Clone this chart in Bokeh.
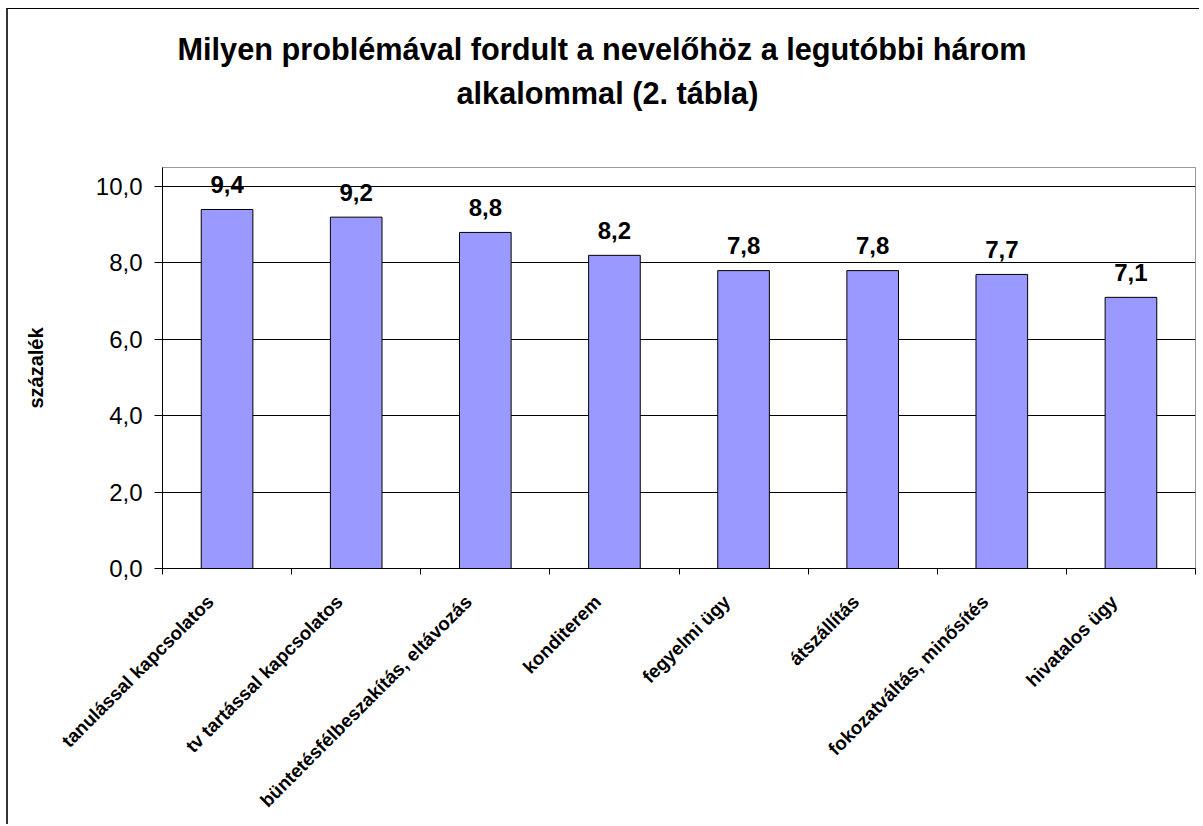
import math
from bokeh.plotting import figure
from bokeh.models import FixedTicker, Title, Range1d
from bokeh.core.properties import value
from bokeh.embed import file_html
from bokeh.resources import INLINE

categories = [
    "tanulással kapcsolatos",
    "tv tartással kapcsolatos",
    "büntetésfélbeszakítás, eltávozás",
    "konditerem",
    "fegyelmi ügy",
    "átszállítás",
    "fokozatváltás, minősítés",
    "hivatalos ügy",
]
values = [9.4, 9.2, 8.8, 8.2, 7.8, 7.8, 7.7, 7.1]
y_ticks = [0, 2, 4, 6, 8, 10]
y_tick_labels = ["0,0", "2,0", "4,0", "6,0", "8,0", "10,0"]
title_lines = ["Milyen problémával fordult a nevelőhöz a legutóbbi három",
               "alkalommal (2. tábla)"]
y_label = "százalék"

FONT = "Liberation Sans"
SLOT = 100
n = len(categories)
centers = [SLOT * i + SLOT // 2 for i in range(n)]
label_pos = [SLOT * i + 37 for i in range(n)]
bounds = [SLOT * i for i in range(n + 1)]
value_labels = [f"{v:.1f}".replace(".", ",") for v in values]

W, H = 1193, 816
p = figure(width=W, height=H, output_backend="svg", toolbar_location=None,
           title=None, x_range=Range1d(0, SLOT * n), y_range=Range1d(0, 10.5),
           min_border_left=154, min_border_right=W - 1187,
           min_border_top=158, min_border_bottom=H - 559)
p.background_fill_color = "white"
p.border_fill_color = "white"
p.outline_line_color = "#999999"
p.styles = {"margin-left": "6px", "margin-top": "8px",
            "border-left": "2px solid #333333", "border-top": "1px solid #000000"}

# spacer between title and plot area, then the two title lines
spacer = Title(text=" ", text_font_size="1px", standoff=54)
t2 = Title(text=title_lines[1], align="left", offset=294,
           text_font=FONT, text_font_size="30.7px", text_font_style="bold",
           text_color="black", standoff=0)
t1 = Title(text=title_lines[0], align="left", offset=15,
           text_font=FONT, text_font_size="30.7px", text_font_style="bold",
           text_color="black", standoff=13)
p.add_layout(spacer, "above")
p.add_layout(t2, "above")
p.add_layout(t1, "above")

# x axis: tick marks between categories, labels near category centres
xa = p.xaxis[0]
xa.ticker = FixedTicker(ticks=label_pos, minor_ticks=bounds)
xa.major_label_overrides = {int(lp): c for lp, c in zip(label_pos, categories)}
xa.major_label_orientation = math.pi / 4
xa.major_tick_out = 0
xa.major_tick_in = 0
xa.minor_tick_out = 6
xa.minor_tick_in = 0
xa.minor_tick_line_color = "black"
xa.axis_line_color = "black"
xa.major_label_text_font = FONT
xa.major_label_text_font_size = "18.8px"
xa.major_label_text_font_style = "bold"
xa.major_label_text_color = "black"
xa.major_label_standoff = 24

# y axis
ya = p.yaxis[0]
ya.ticker = FixedTicker(ticks=y_ticks)
ya.major_label_overrides = dict(zip(y_ticks, y_tick_labels))
ya.major_tick_out = 8
ya.major_tick_in = 0
ya.minor_tick_out = 0
ya.minor_tick_in = 0
ya.major_tick_line_color = "black"
ya.axis_line_color = "black"
ya.major_label_text_font = FONT
ya.major_label_text_font_size = "24px"
ya.major_label_text_color = "black"
ya.major_label_standoff = 12
ya.axis_label = y_label
ya.axis_label_text_font = FONT
ya.axis_label_text_font_size = "20px"
ya.axis_label_text_font_style = "bold"
ya.axis_label_text_color = "black"
ya.axis_label_standoff = 46

p.xgrid.visible = False
p.ygrid.ticker = FixedTicker(ticks=y_ticks)
p.ygrid.grid_line_color = "black"
p.ygrid.grid_line_width = 1

p.vbar(x=centers, top=values, bottom=0, width=SLOT * 0.4,
       fill_color="#9999FF", line_color="black", line_width=1)

p.text(x=centers, y=values, text=value_labels, text_align="center",
       text_baseline="alphabetic", y_offset=-25,
       text_font=value(FONT), text_font_size="24px", text_font_style="bold",
       text_color="black")

open("out.html", "w").write(file_html(p, INLINE))
